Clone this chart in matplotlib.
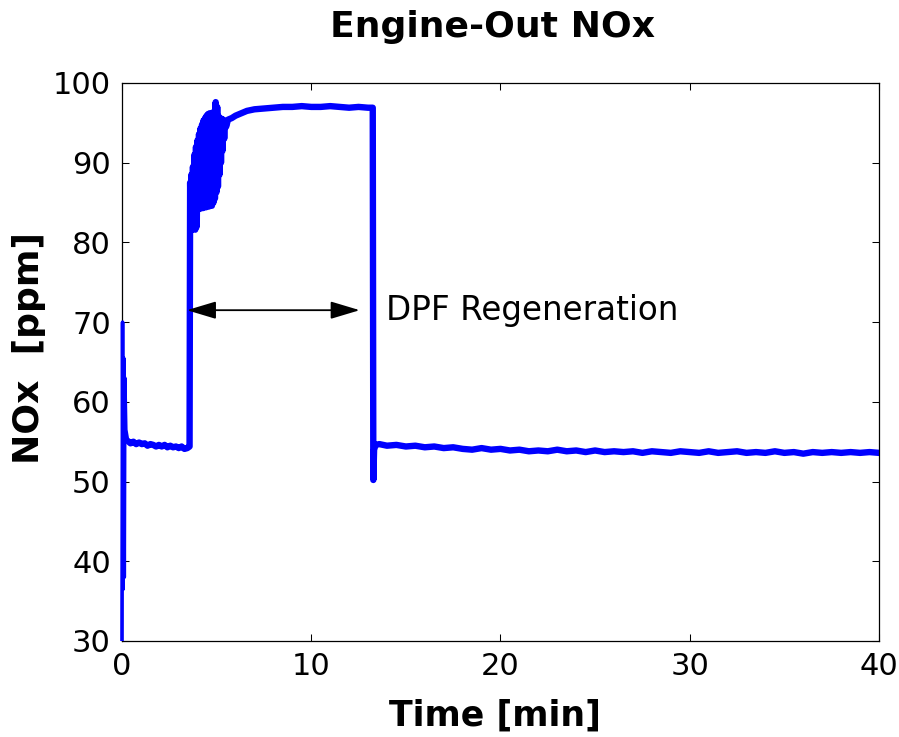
import matplotlib
matplotlib.use("Agg")
import matplotlib.pyplot as plt

plt.rcParams['font.family'] = ['DejaVu Sans']

# ---- data ----
startup_time = [0.00, 0.03, 0.06, 0.09, 0.12, 0.15, 0.20, 0.30]
startup_nox = [30.0, 70.0, 36.5, 65.5, 38.0, 63.0, 56.5, 55.1]

time_min = [
    0.30, 0.45, 0.60, 0.75, 0.90, 1.05, 1.20, 1.35, 1.50, 1.65, 1.80, 1.95,
    2.10, 2.25, 2.40, 2.55, 2.70, 2.85, 3.00, 3.15, 3.30, 3.45, 3.57,
    3.60, 3.63, 3.67, 3.71, 3.75, 3.79, 3.83, 3.87, 3.91, 3.95, 3.99, 4.03,
    4.07, 4.11, 4.15, 4.19, 4.23, 4.27, 4.31, 4.35, 4.39, 4.43, 4.47, 4.51,
    4.55, 4.59, 4.63, 4.67, 4.71, 4.75, 4.79, 4.83, 4.87, 4.91, 4.95, 4.99,
    5.03, 5.07, 5.11, 5.15, 5.19, 5.23, 5.27, 5.31, 5.35, 5.40, 5.45, 5.50,
    5.60, 5.80, 6.00, 6.30, 6.60, 7.00, 7.50, 8.00, 8.50, 9.00, 9.50, 10.00,
    10.50, 11.00, 11.50, 12.00, 12.50, 13.00, 13.25,
    13.28, 13.32, 13.40,
    13.60, 14.00, 14.50, 15.00, 15.50, 16.00, 16.50, 17.00, 17.50, 18.00,
    18.50, 19.00, 19.50, 20.00, 20.50, 21.00, 21.50, 22.00, 22.50, 23.00,
    23.50, 24.00, 24.50, 25.00, 25.50, 26.00, 26.50, 27.00, 27.50, 28.00,
    28.50, 29.00, 29.50, 30.00, 30.50, 31.00, 31.50, 32.00, 32.50, 33.00,
    33.50, 34.00, 34.50, 35.00, 35.50, 36.00, 36.50, 37.00, 37.50, 38.00,
    38.50, 39.00, 39.50, 40.00,
]
nox_ppm = [
    55.1, 54.8, 55.0, 54.7, 54.9, 54.7, 54.8, 54.5, 54.7, 54.6, 54.4, 54.6,
    54.4, 54.6, 54.3, 54.5, 54.3, 54.4, 54.2, 54.4, 54.1, 54.2, 54.4,
    87.5, 82.0, 88.5, 81.6, 89.5, 81.8, 91.0, 81.6, 92.0, 82.0, 92.8, 84.4,
    93.6, 84.2, 94.3, 84.5, 94.8, 84.3, 95.3, 84.6, 95.6, 84.4, 95.9, 84.6,
    96.1, 84.5, 96.2, 84.7, 96.0, 84.6, 96.3, 85.0, 96.0, 85.5, 97.6, 86.3,
    97.0, 87.0, 95.8, 88.5, 95.6, 90.0, 95.5, 91.5, 95.4, 93.0, 95.2, 94.5,
    95.4, 95.6, 95.9, 96.2, 96.5, 96.7, 96.8, 96.9, 97.0, 97.0, 97.1, 97.0,
    97.0, 97.1, 97.0, 96.9, 97.0, 96.9, 96.9,
    50.2, 54.0, 54.6,
    54.7, 54.5, 54.6, 54.4, 54.5, 54.3, 54.4, 54.2, 54.3, 54.1,
    54.0, 54.2, 54.0, 54.1, 53.9, 54.0, 53.8, 53.9, 53.8, 54.0,
    53.8, 53.9, 53.7, 53.9, 53.7, 53.8, 53.7, 53.8, 53.6, 53.8,
    53.7, 53.6, 53.8, 53.7, 53.6, 53.8, 53.6, 53.7, 53.8, 53.6,
    53.7, 53.6, 53.8, 53.6, 53.7, 53.5, 53.7, 53.6, 53.7, 53.6,
    53.7, 53.6, 53.7, 53.6,
]

x_ticks = [0, 10, 20, 30, 40]
y_ticks = [30, 40, 50, 60, 70, 80, 90, 100]

title_text = "Engine-Out NOx"
x_label = "Time [min]"
y_label = "NOx  [ppm]"
annot_text = "DPF Regeneration"
arrow_start, arrow_end, arrow_level = 3.43, 12.56, 71.5

# ---- figure ----
fig = plt.figure(figsize=(8.99, 7.37), dpi=100)
ax = fig.add_axes([122/899, 1-641/737, (879-122)/899, (641-83)/737])

blue = (0, 0, 1)
ax.plot(startup_time, startup_nox, color=blue, lw=2.6, clip_on=False,
        zorder=3, solid_joinstyle='round', solid_capstyle='butt')
ax.plot(time_min, nox_ppm, color=blue, lw=4.6,
        solid_joinstyle='round', solid_capstyle='round')

ax.set_xlim(0, 40)
ax.set_ylim(30, 100)
ax.set_xticks(x_ticks)
ax.set_yticks(y_ticks)
ax.tick_params(direction='in', length=5, width=0.75, labelsize=22,
               top=True, right=True, pad=8)
for s in ax.spines.values():
    s.set_linewidth(0.9)

ax.annotate('', xy=(arrow_start, arrow_level), xytext=(arrow_end, arrow_level),
            arrowprops=dict(arrowstyle='<|-|>,head_length=1.0,head_width=0.3',
                            color='black', lw=1.3, mutation_scale=18,
                            shrinkA=0, shrinkB=0))
ax.text(13.93, arrow_level, annot_text, fontsize=23.5, ha='left', va='center')

fig.text(492/899, 1-37/737, title_text, fontsize=26, fontweight='bold',
         ha='center', va='baseline')
fig.text(495/899, 1-726/737, x_label, fontsize=25, fontweight='bold',
         ha='center', va='baseline')
fig.text(29/899, 1-348/737, y_label, fontsize=26, fontweight='bold',
         ha='center', va='center', rotation=90)

fig.savefig('out.png', dpi=100)
